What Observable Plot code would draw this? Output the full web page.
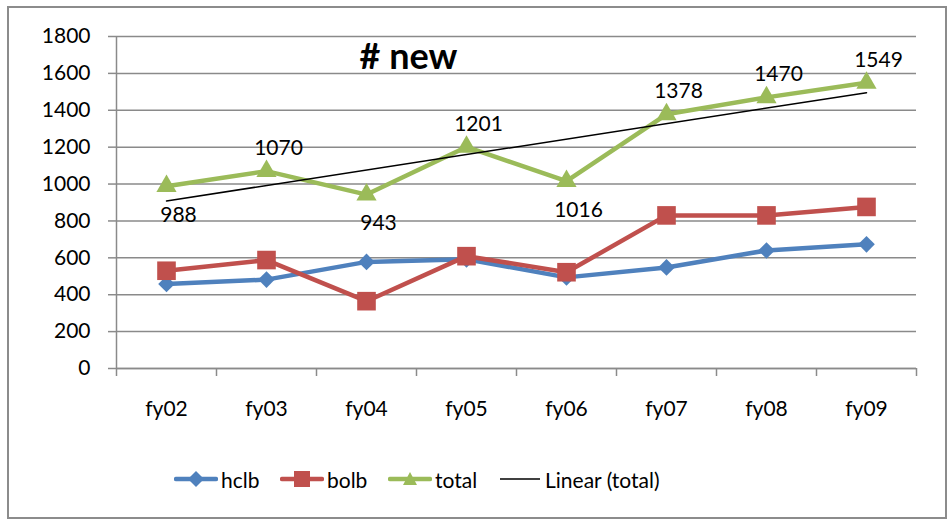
<!DOCTYPE html>
<html>
<head>
<meta charset="utf-8">
<script src="https://cdn.jsdelivr.net/npm/d3@7"></script>
<script src="https://cdn.jsdelivr.net/npm/@observablehq/plot@0.6"></script>
<style>
  html, body { margin: 0; padding: 0; background: #fff; }
  #wrap { position: relative; width: 951px; height: 521px; font-family: Lato, "Open Sans", sans-serif; }
  #frame { position: absolute; left: 7px; top: 6px; width: 936px; height: 509px; border: 2px solid #8c8c8c; }
  #chart { position: absolute; left: 0; top: 0; }
  #legend { position: absolute; left: 0; top: 463px; width: 951px; height: 32px; }
  .item { position: absolute; top: 0; height: 32px; display: flex; align-items: center; font-size: 21px; color: #000; white-space: nowrap; }
  .item svg { display: block; margin-right: 3px; }
</style>
</head>
<body>
<div id="wrap">
  <div id="frame"></div>
  <div id="chart"></div>
  <div id="legend"></div>
</div>
<script>
const title = "# new";
const categories = ["fy02", "fy03", "fy04", "fy05", "fy06", "fy07", "fy08", "fy09"];
const hclb  = [458, 482, 578, 592, 494, 548, 640, 673];
const bolb  = [530, 588, 365, 609, 522, 830, 830, 876];
const total = [988, 1070, 943, 1201, 1016, 1378, 1470, 1549];
const yTicks = [0, 200, 400, 600, 800, 1000, 1200, 1400, 1600, 1800];
const seriesNames = ["hclb", "bolb", "total", "Linear (total)"];

const colors = { hclb: "#4F81BD", bolb: "#C0504D", total: "#9BBB59", trend: "#000000" };
const gridColor = "#8a8a8a";

const rows = categories.map((c, i) => ({ i: i + 1, cat: c, hclb: hclb[i], bolb: bolb[i], total: total[i] }));
// labels below local minima, above otherwise
const isLow = (d, k) => (k === 0 || total[k] < total[k - 1]) && (k === total.length - 1 || total[k] < total[k + 1]);
const above = rows.filter((d, k) => !isLow(d, k));
const below = rows.filter((d, k) => isLow(d, k));
const boundaries = d3.range(0, categories.length + 1).map(k => k + 0.5);

const chart = Plot.plot({
  width: 951,
  height: 455,
  marginLeft: 116,
  marginRight: 35,
  marginTop: 36,
  marginBottom: 87,
  x: { domain: [0.5, categories.length + 0.5], axis: null },
  y: { domain: [0, 1800], axis: null },
  style: { fontFamily: "Lato, 'Open Sans', sans-serif", fontSize: "21px", color: "#000", background: "transparent", overflow: "visible" },
  marks: [
    Plot.gridY(yTicks, { stroke: gridColor, strokeOpacity: 1, strokeWidth: 1.5 }),
    Plot.axisY(yTicks, { tickSize: 8, tickPadding: 18, tickFormat: d => String(d), label: null, stroke: gridColor, strokeWidth: 1.5, fill: "#000", fontSize: 21 }),
    Plot.ruleX([0.5], { stroke: gridColor, strokeWidth: 1.5 }),
    Plot.ruleY([0], { stroke: gridColor, strokeWidth: 1.5 }),
    Plot.axisX(boundaries, { tickSize: 8, tickFormat: () => "", label: null, stroke: gridColor, strokeWidth: 1.5 }),
    Plot.axisX(d3.range(1, categories.length + 1), { tickSize: 0, tickPadding: 33, tickFormat: i => categories[i - 1], label: null, fill: "#000", fontSize: 21 }),
    Plot.line(rows, { x: "i", y: "hclb", stroke: colors.hclb, strokeWidth: 4.5 }),
    Plot.line(rows, { x: "i", y: "bolb", stroke: colors.bolb, strokeWidth: 4.5 }),
    Plot.line(rows, { x: "i", y: "total", stroke: colors.total, strokeWidth: 4.5 }),
    Plot.dot(rows, { x: "i", y: "hclb", symbol: "diamond2", fill: colors.hclb, r: 7.5 }),
    Plot.dot(rows, { x: "i", y: "bolb", symbol: "square", fill: colors.bolb, r: 10.5 }),
    Plot.dot(rows, { x: "i", y: "total", symbol: "triangle", fill: colors.total, r: 7.5 }),
    Plot.linearRegressionY(rows, { x: "i", y: "total", stroke: colors.trend, strokeWidth: 1.5, ci: 0 }),
    Plot.text(above, { x: "i", y: "total", text: d => String(d.total), dx: 12, dy: -23, fontSize: 21, fill: "#000" }),
    Plot.text(below, { x: "i", y: "total", text: d => String(d.total), dx: 12, dy: 29, fontSize: 21, fill: "#000" }),
    Plot.text([title], { frameAnchor: "top-left", lineAnchor: "middle", dx: 292, dy: 21, text: d => d, textAnchor: "middle", fontSize: 36, fontWeight: "bold", fill: "#000" })
  ]
});
document.getElementById("chart").appendChild(chart);

// legend
const legend = document.getElementById("legend");
const lefts = [174, 280, 388, 498];
const symbols = ["diamond", "square", "triangle", "none"];
const swatchColors = [colors.hclb, colors.bolb, colors.total, colors.trend];
seriesNames.forEach((name, k) => {
  const item = document.createElement("div");
  item.className = "item";
  item.style.left = lefts[k] + "px";
  const ns = "http://www.w3.org/2000/svg";
  const svg = document.createElementNS(ns, "svg");
  svg.setAttribute("width", 44); svg.setAttribute("height", 32);
  const line = document.createElementNS(ns, "line");
  line.setAttribute("x1", 2); line.setAttribute("x2", 42);
  line.setAttribute("y1", 16); line.setAttribute("y2", 16);
  line.setAttribute("stroke", swatchColors[k]);
  line.setAttribute("stroke-width", k === 3 ? 1.5 : 4.5);
  line.setAttribute("stroke-linecap", k === 3 ? "butt" : "round");
  svg.appendChild(line);
  let p = null;
  if (symbols[k] === "diamond") { p = document.createElementNS(ns, "path"); p.setAttribute("d", "M22,8L30,16L22,24L14,16Z"); }
  if (symbols[k] === "square") { p = document.createElementNS(ns, "rect"); p.setAttribute("x", 14); p.setAttribute("y", 8); p.setAttribute("width", 16); p.setAttribute("height", 16); }
  if (symbols[k] === "triangle") { p = document.createElementNS(ns, "path"); p.setAttribute("d", "M22,9L29,22L15,22Z"); }
  if (p) { p.setAttribute("fill", swatchColors[k]); svg.appendChild(p); }
  item.appendChild(svg);
  const t = document.createElement("span");
  t.textContent = name;
  item.appendChild(t);
  legend.appendChild(item);
});
</script>
</body>
</html>
